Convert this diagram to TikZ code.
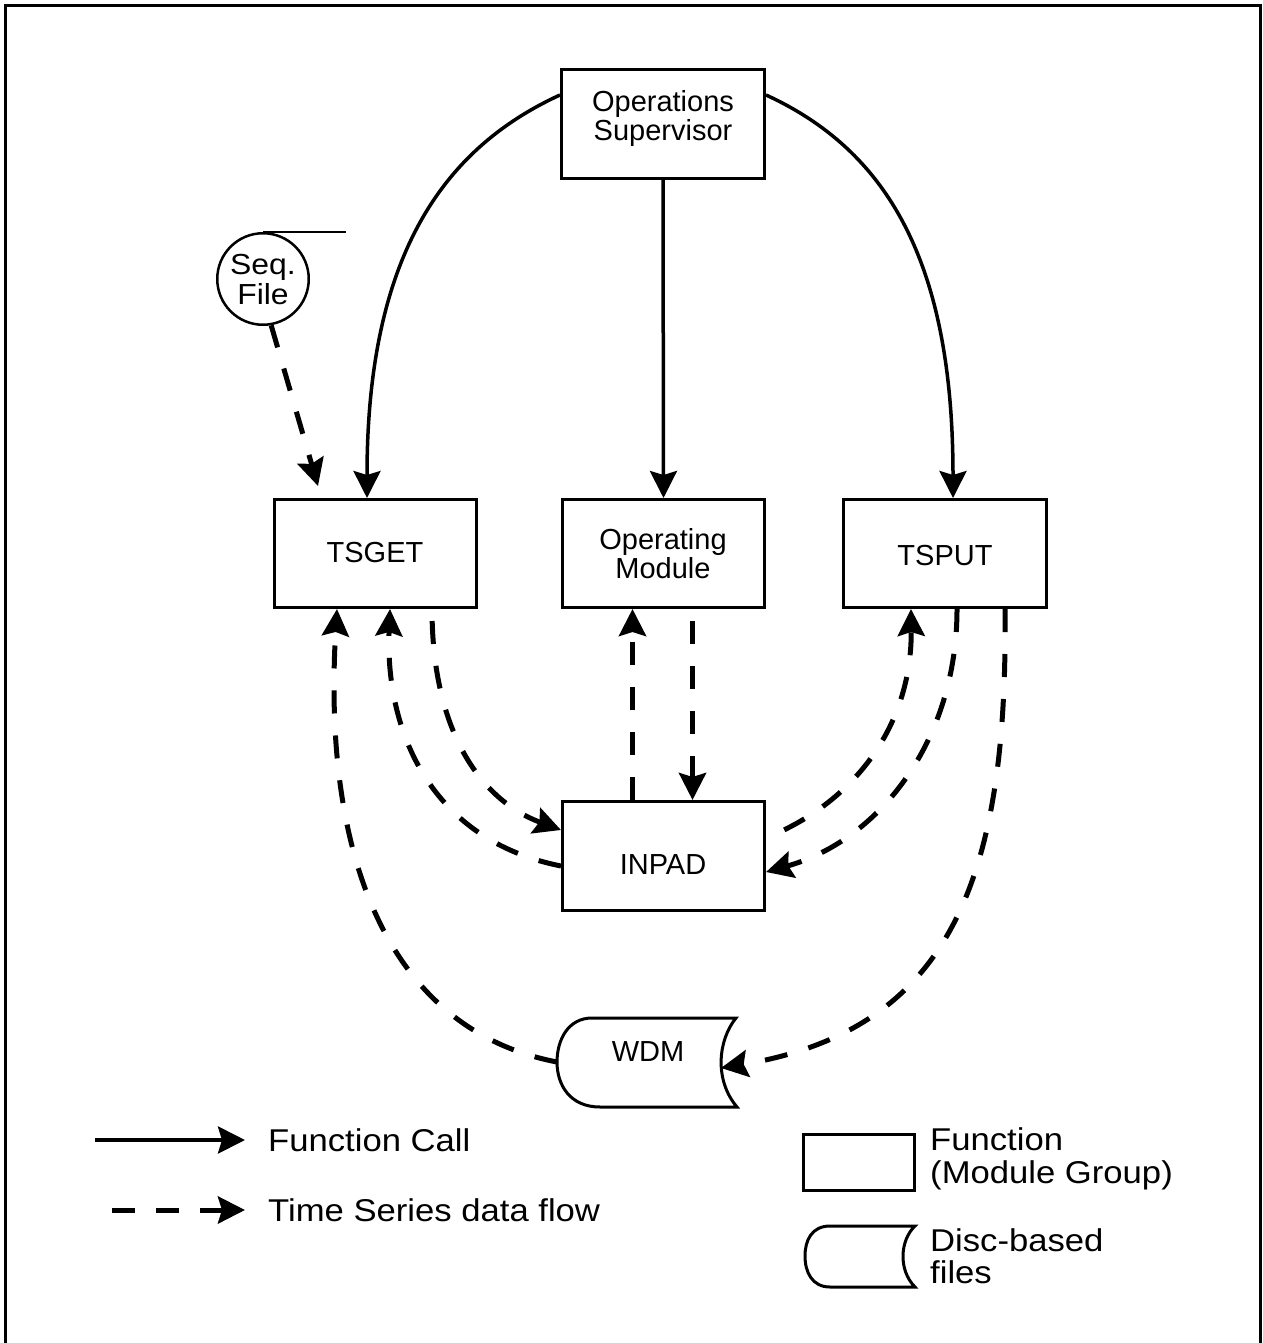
\documentclass[tikz,border=0pt]{standalone}
\usepackage{fontspec}
\setmainfont{Liberation Sans}
\newfontfamily\widesans[FakeStretch=1.1]{Liberation Sans}
\usetikzlibrary{arrows.meta}

\begin{document}
\begin{tikzpicture}[x=1pt,y=-1pt,
  box/.style={draw, line width=3pt, minimum width=202pt, minimum height=108pt, inner sep=0pt},
  lbl/.style={font=\fontsize{29}{29}\selectfont, align=center, inner sep=0pt},
  legtext/.style={font=\widesans\fontsize{31.5}{32.5}\selectfont, align=left, inner sep=0pt, anchor=west},
  tip/.style={-{Stealth[length=27pt,width=27pt,inset=4pt]}},
  call/.style={tip, line width=3.5pt},
  flow/.style={tip, line width=5pt, dash pattern=on 23pt off 22pt},
]
\useasboundingbox (0,0) rectangle (1262,1343);

% outer frame
\draw[line width=3.5pt] (5.5,1343) -- (5.5,5.5) -- (1260.5,5.5) -- (1260.5,1343);

% function boxes
\node[box, minimum width=203pt, minimum height=109pt] (opsup) at (663,124) {};
\node[box] (tsget) at (375,553.5) {};
\node[box] (opmod) at (663.5,553.5) {};
\node[box, minimum width=203pt] (tsput) at (945,553.5) {};
\node[box, minimum height=109pt] (inpad) at (663.5,856) {};

\node[lbl] (opsupT) at (663,119) {Operations\\Supervisor};
\node[lbl] (tsgetT) at (375,553) {TSGET};
\node[lbl] (opmodT) at (663,554) {Operating\\Module};
\node[lbl] (tsputT) at (945,556) {TSPUT};
\node[lbl] (inpadT) at (663,865) {INPAD};

% sequential file
\node[draw, circle, line width=2.5pt, minimum size=91.5pt, inner sep=0pt] (seq) at (263,279) {};
\node[lbl, font=\widesans\fontsize{29}{30}\selectfont] (seqT) at (263,280) {Seq.\\File};
\draw[line width=2pt] (seq.north) -- ++(83,0);

% disc-based file WDM
\draw[line width=3pt] (592,1018) -- (736,1018)
  .. controls (718,1040) and (714,1080) .. (737,1107) -- (600,1107)
  .. controls (570,1107) and (557,1085) .. (557,1062)
  .. controls (557,1040) and (568,1018) .. (592,1018) -- cycle;
\node[lbl] (wdm) at (648,1052) {WDM};
\coordinate (wdmL) at (557,1062);
\coordinate (wdmR) at (721,1068);

% function calls
\draw[call] ([yshift=29pt]opsup.west) .. controls (440,150) and (367,260) .. ([xshift=-8pt]tsget.north);
\draw[call] (opsup.south) -- (opmod.north);
\draw[call] ([yshift=29pt]opsup.east) .. controls (886,150) and (953,260) .. ([xshift=8pt]tsput.north);

% time series data flows
\draw[flow] (seq.-80) -- ([xshift=-57pt,yshift=12pt]tsget.north);
\draw[flow] (wdmL) .. controls (390,1030) and (322,860) .. ([xshift=-38pt]tsget.south);
\draw[flow] ([yshift=-10pt]inpad.west) .. controls (430,840) and (385,730) .. ([xshift=15pt]tsget.south);
\draw[flow, dash phase=33pt] ([xshift=57pt]tsget.south) .. controls (432,730) and (480,800) .. ([yshift=26pt]inpad.west);
\draw[flow] ([xshift=-31pt]inpad.north) -- ([xshift=-31pt]opmod.south);
\draw[flow, dash phase=33pt] ([xshift=29pt]opmod.south) -- ([xshift=29pt]inpad.north);
\draw[flow, dash phase=25pt] ([yshift=18pt]inpad.east) .. controls (860,800) and (912,720) .. ([xshift=-34pt]tsput.south);
\draw[flow] ([xshift=12pt]tsput.south) .. controls (957,740) and (880,840) .. ([yshift=-16pt]inpad.east);
\draw[flow] ([xshift=60pt]tsput.south) .. controls (1008,880) and (950,1030) .. (wdmR);

% legend
\coordinate (lcA) at (95,1140);
\coordinate (lcB) at (245,1140);
\draw[call, line width=4pt] (lcA) -- (lcB);
\node[legtext] (lcT) at (268,1140) {Function Call};

\coordinate (lfA) at (112,1210);
\coordinate (lfB) at (245,1210);
\draw[flow, dash pattern=on 23pt off 21pt] (lfA) -- (lfB);
\node[legtext] (lfT) at (268,1210) {Time Series data flow};

\node[draw, line width=3pt, minimum width=111pt, minimum height=56pt, inner sep=0pt] (lbox) at (859,1162.5) {};
\node[legtext] (lboxT) at (930,1159) {Function\\(Module Group)};

\draw[line width=3pt] (830,1226) -- (915,1226)
  .. controls (900,1240) and (898,1270) .. (915,1287) -- (830,1287)
  .. controls (812,1287) and (805,1272) .. (805,1256)
  .. controls (805,1240) and (812,1226) .. (830,1226) -- cycle;
\coordinate (ldisc) at (860,1256);
\node[legtext] (ldiscT) at (930,1256) {Disc-based\\files};
\end{tikzpicture}
\end{document}
